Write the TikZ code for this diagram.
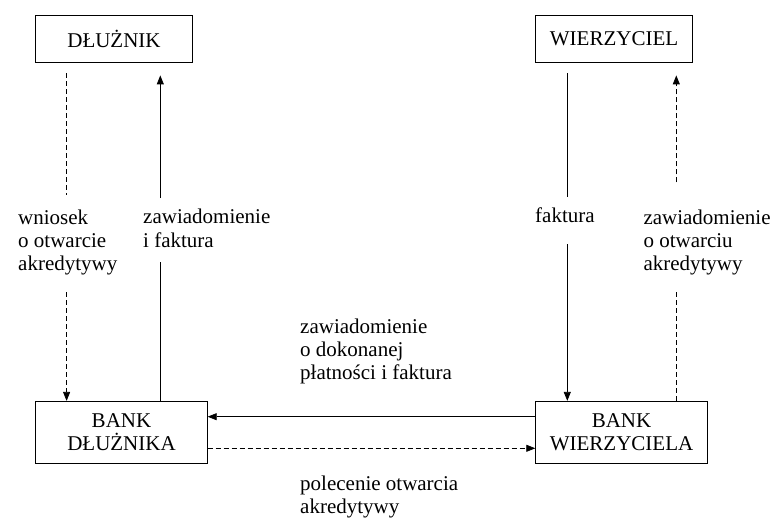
\documentclass[tikz,border=0pt]{standalone}
\usepackage{fontspec}
\setmainfont{Liberation Serif}
\usetikzlibrary{arrows.meta}

\begin{document}
\begin{tikzpicture}[x=1pt, y=-1pt,
        every node/.style={font=\fontsize{21}{23.3}\selectfont},
        box/.style={rectangle, draw, line width=0.8pt, align=center, inner sep=0pt},
        lbl/.style={anchor=base west, align=left, inner sep=0pt},
        conn/.style={line width=0.8pt},
        dconn/.style={conn, dash pattern=on 5pt off 3pt},
        tip/.style={-{Triangle[length=9pt,width=7pt]}}
    ]
        \useasboundingbox (0,0) rectangle (780,521);

        \node[box, minimum width=156.6pt, minimum height=47.3pt] (dluz) at (114,38.65) {DŁUŻNIK};
        \node[box, minimum width=156.6pt, minimum height=47.3pt] (wierz) at (614,38.65) {WIERZYCIEL};
        \node[box, minimum width=171.6pt, minimum height=62pt] (bdluz) at (121.5,432.3) {BANK\\DŁUŻNIKA};
        \node[box, minimum width=171.6pt, minimum height=62pt] (bwierz) at (621.5,432.3) {BANK\\WIERZYCIELA};

        \node[lbl] (wniosek) at (18,270.7) {wniosek\\o otwarcie\\akredytywy};
        \node[lbl] (zawfak) at (143,247.3) {zawiadomienie\\i faktura};
        \node[lbl] (faktura) at (535,222.7) {faktura};
        \node[lbl] (zawotw) at (643.3,270.7) {zawiadomienie\\o otwarciu\\akredytywy};
        \node[lbl] (zawplat) at (300,380) {zawiadomienie\\o dokonanej\\płatności i faktura};
        \node[lbl] (polec) at (300,513.3) {polecenie otwarcia\\akredytywy};

        \draw[dconn, shorten <=10.7pt, shorten >=14pt] ([xshift=31.3pt]dluz.south west) -- ([xshift=31.3pt]dluz.south west |- wniosek.north);
        \draw[dconn, tip, shorten <=17pt] ([xshift=31.3pt]dluz.south west |- wniosek.south) -- ([xshift=31.3pt]dluz.south west |- bdluz.north);

        \draw[conn, shorten >=14pt] ([xshift=125pt]bdluz.north west) -- ([xshift=125pt]bdluz.north west |- zawfak.south);
        \draw[conn, tip, shorten <=11pt, shorten >=12.7pt] ([xshift=125pt]bdluz.north west |- zawfak.north) -- ([xshift=125pt]bdluz.north west |- dluz.south);

        \draw[conn, shorten <=10.7pt, shorten >=10.7pt] ([xshift=32pt]wierz.south west) -- ([xshift=32pt]wierz.south west |- faktura.north);
        \draw[conn, tip, shorten <=21pt] ([xshift=32pt]wierz.south west |- faktura.south) -- ([xshift=32pt]wierz.south west |- bwierz.north);

        \draw[dconn, shorten >=15pt] ([xshift=141pt]bwierz.north west) -- ([xshift=141pt]bwierz.north west |- zawotw.south);
        \draw[dconn, tip, shorten <=27pt, shorten >=12.7pt] ([xshift=141pt]bwierz.north west |- zawotw.north) -- ([xshift=141pt]bwierz.north west |- wierz.south);

        \draw[conn, tip] ([yshift=15.6pt]bwierz.west) -- ([yshift=15.6pt]bdluz.east);
        \draw[dconn, tip] ([yshift=-16pt]bdluz.east) -- ([yshift=-16pt]bwierz.west);
    \end{tikzpicture}
\end{document}
